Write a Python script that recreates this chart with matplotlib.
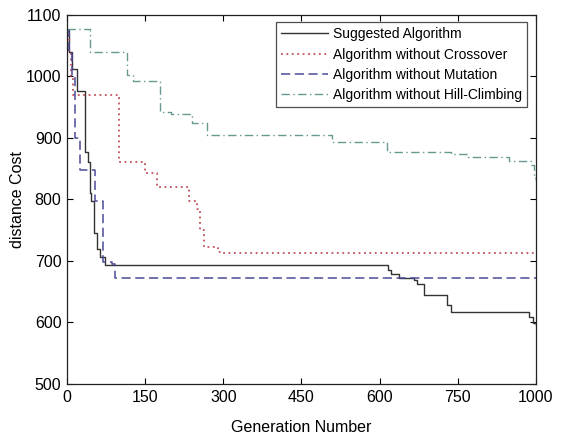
import matplotlib
matplotlib.use("Agg")
import matplotlib.pyplot as plt

plt.rcParams["font.family"] = ["Liberation Sans", "DejaVu Sans"]

# step curves (x in generation axis units, y in cost)
suggested_x = [0, 3, 9, 19, 28, 35, 41, 44, 46, 51, 57, 63, 73, 616, 621, 637, 666,
               672, 685, 730, 737, 887, 894, 900]
suggested_y = [1075, 1040, 1012, 976, 976, 877, 860, 811, 798, 745, 720, 706, 694,
               685, 679, 673, 669, 663, 644, 628, 617, 609, 599, 596]

crossover_x = [0, 4, 8, 12, 92, 99, 140, 150, 172, 235, 249, 256, 262, 290, 297, 900]
crossover_y = [1075, 1040, 1000, 970, 970, 861, 861, 842, 820, 798, 785, 750, 723,
               715, 713, 713]

mutation_x = [0, 4, 9, 15, 25, 44, 54, 69, 86, 92, 900]
mutation_y = [1075, 1040, 1000, 900, 847, 847, 798, 698, 695, 672, 672]

hill_x = [0, 40, 44, 111, 115, 127, 179, 200, 240, 269, 509, 615, 737, 769, 848,
          890, 897, 900]
hill_y = [1077, 1077, 1040, 1040, 1002, 992, 942, 938, 924, 904, 893, 877, 873,
          869, 863, 855, 835, 830]

x_ticks = [0, 150, 300, 450, 600, 750, 900]
x_tick_labels = ["0", "150", "300", "450", "600", "750", "1000"]
y_ticks = [500, 600, 700, 800, 900, 1000, 1100]


def main():
    fig = plt.figure(figsize=(5.78, 4.37), dpi=100)
    ax = fig.add_axes([0.1159, 0.1213, 0.8114, 0.8451])

    ax.plot(suggested_x, suggested_y, drawstyle="steps-post", color="#333333",
            lw=1.0, label="Suggested Algorithm")
    ax.plot(crossover_x, crossover_y, drawstyle="steps-post", color="#c0505a",
            lw=1.3, linestyle=(0, (1, 2)), label="Algorithm without Crossover")
    ax.plot(mutation_x, mutation_y, drawstyle="steps-post", color="#4a4a9a",
            lw=1.1, linestyle=(0, (6, 3)), label="Algorithm without Mutation")
    ax.plot(hill_x, hill_y, drawstyle="steps-post", color="#66998f",
            lw=1.0, linestyle=(0, (6, 2.5, 1, 2.5)),
            label="Algorithm without Hill-Climbing")

    ax.set_xlim(0, 900)
    ax.set_ylim(500, 1100)
    ax.set_xticks(x_ticks)
    ax.set_xticklabels(x_tick_labels)
    ax.set_yticks(y_ticks)
    ax.tick_params(direction="in", top=True, right=True, labelsize=11.5,
                   length=4, width=0.8, pad=4)
    for s in ax.spines.values():
        s.set_linewidth(0.9)
        s.set_color("#222222")

    ax.set_xlabel("Generation Number", fontsize=11.5, labelpad=11)
    ax.set_ylabel("distance Cost", fontsize=11.5, labelpad=1)

    leg = ax.legend(loc="upper right", bbox_to_anchor=(0.980, 0.9794),
                    fontsize=10, frameon=True, fancybox=False,
                    handlelength=3.4, handletextpad=0.35, borderpad=0.35,
                    labelspacing=0.46, borderaxespad=0)
    leg.get_frame().set_edgecolor("#222222")
    leg.get_frame().set_linewidth(0.9)

    fig.savefig("out.png", dpi=100)
    plt.close(fig)


if __name__ == "__main__":
    main()
